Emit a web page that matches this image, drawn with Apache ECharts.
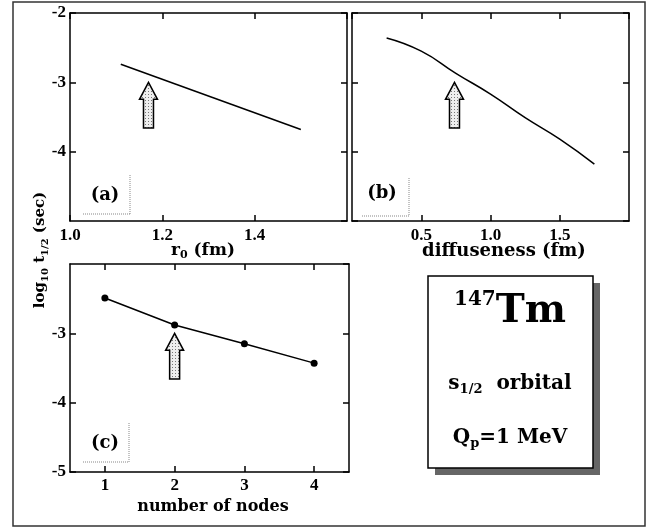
<!DOCTYPE html>
<html>
<head>
<meta charset="utf-8">
<script src="https://cdn.jsdelivr.net/npm/echarts@6/dist/echarts.min.js"></script>
<style>
html,body{margin:0;padding:0;background:#fff;}
#chart{width:662px;height:529px;}
</style>
</head>
<body>
<div id="chart"></div>
<script>
// ---- data ----
const r0Data = [[1.11, -2.74], [1.5, -3.68]];
const diffData = [[0.25, -2.36], [0.5, -2.55], [0.75, -2.87], [1.0, -3.17], [1.25, -3.51], [1.5, -3.82], [1.75, -4.18]];
const nodeCategories = ['1', '2', '3', '4'];
const nodeValues = [-2.49, -2.88, -3.15, -3.43];
// arrows: [x, yTip, yBase]
const arrowA = [[1.17, -3.0, -3.66]];
const arrowB = [[0.74, -3.0, -3.66]];
const arrowC = [[1, -3.0, -3.66]]; // category index of "2"

const tickFont = 'Liberation Serif';
const textFont = 'DejaVu Serif';

const chart = echarts.init(document.getElementById('chart'), null, {renderer: 'canvas'});

// dotted fill pattern
const pc = document.createElement('canvas');
pc.width = 3; pc.height = 3;
const pctx = pc.getContext('2d');
pctx.fillStyle = '#eeeeee'; pctx.fillRect(0, 0, 3, 3);
pctx.fillStyle = '#777'; pctx.fillRect(1, 1, 1, 1);
const pattern = {image: pc, repeat: 'repeat'};

const lineStyle = {color: '#000', width: 1.5};
function axisBase(extra) {
  return Object.assign({
    axisLine: {show: true, onZero: false, lineStyle: lineStyle},
    axisTick: {show: true, inside: true, length: 6, lineStyle: lineStyle},
    splitLine: {show: false},
    axisLabel: {show: false}
  }, extra);
}
const xLabel = {show: true, color: '#000', fontFamily: tickFont, fontWeight: 'bold', fontSize: 17, margin: 6};
const yLabel = {show: true, color: '#000', fontFamily: tickFont, fontWeight: 'bold', fontSize: 17, margin: 4};

const xAxis = [
  axisBase({gridIndex: 0, type: 'value', position: 'bottom', min: 1.0, max: 1.6, interval: 0.2,
    axisLabel: Object.assign({}, xLabel, {showMaxLabel: false, formatter: v => v.toFixed(1)})}),
  axisBase({gridIndex: 0, type: 'value', position: 'top', min: 1.0, max: 1.6, interval: 0.2}),
  axisBase({gridIndex: 1, type: 'value', position: 'bottom', min: 0, max: 2, interval: 0.5,
    axisLabel: Object.assign({}, xLabel, {showMinLabel: false, showMaxLabel: false, formatter: v => v.toFixed(1)})}),
  axisBase({gridIndex: 1, type: 'value', position: 'top', min: 0, max: 2, interval: 0.5}),
  axisBase({gridIndex: 2, type: 'category', position: 'bottom', data: nodeCategories, boundaryGap: true,
    axisTick: {show: true, inside: true, length: 6, alignWithLabel: true, lineStyle: lineStyle},
    axisLabel: Object.assign({}, xLabel, {margin: 5})}),
  axisBase({gridIndex: 2, type: 'category', position: 'top', data: nodeCategories, boundaryGap: true,
    axisTick: {show: true, inside: true, length: 6, alignWithLabel: true, lineStyle: lineStyle}})
];
const yAxis = [
  axisBase({gridIndex: 0, type: 'value', position: 'left', min: -5, max: -2, interval: 1,
    axisLabel: Object.assign({}, yLabel, {showMinLabel: false})}),
  axisBase({gridIndex: 0, type: 'value', position: 'right', min: -5, max: -2, interval: 1}),
  axisBase({gridIndex: 1, type: 'value', position: 'left', min: -5, max: -2, interval: 1}),
  axisBase({gridIndex: 1, type: 'value', position: 'right', min: -5, max: -2, interval: 1}),
  axisBase({gridIndex: 2, type: 'value', position: 'left', min: -5, max: -2, interval: 1,
    axisLabel: Object.assign({}, yLabel, {showMaxLabel: false})}),
  axisBase({gridIndex: 2, type: 'value', position: 'right', min: -5, max: -2, interval: 1})
];

function arrowRender(params, api) {
  const tip = api.coord([api.value(0), api.value(1)]);
  const base = api.coord([api.value(0), api.value(2)]);
  const hw = 9, sw = 5, hh = 17;
  const x = tip[0], y = tip[1];
  return {
    type: 'polygon',
    shape: {points: [[x, y], [x + hw, y + hh], [x + sw, y + hh], [x + sw, base[1]], [x - sw, base[1]], [x - sw, y + hh], [x - hw, y + hh]]},
    style: {fill: pattern, stroke: '#000', lineWidth: 1.5}
  };
}

const series = [
  {type: 'line', xAxisIndex: 0, yAxisIndex: 0, data: r0Data, showSymbol: false, lineStyle: {color: '#000', width: 1.5}, silent: true},
  {type: 'line', xAxisIndex: 2, yAxisIndex: 2, data: diffData, showSymbol: false, smooth: 0.5, lineStyle: {color: '#000', width: 1.5}, silent: true},
  {type: 'line', xAxisIndex: 4, yAxisIndex: 4, data: nodeValues, symbol: 'circle', symbolSize: 7, itemStyle: {color: '#000'}, lineStyle: {color: '#000', width: 1.5}, silent: true},
  {type: 'custom', xAxisIndex: 0, yAxisIndex: 0, data: arrowA, renderItem: arrowRender, silent: true},
  {type: 'custom', xAxisIndex: 2, yAxisIndex: 2, data: arrowB, renderItem: arrowRender, silent: true},
  {type: 'custom', xAxisIndex: 4, yAxisIndex: 4, data: arrowC, renderItem: arrowRender, silent: true}
];

const dot = {stroke: '#888', lineWidth: 1, lineDash: [1, 1]};
function panelTag(label, cx, cy, vx, vy1, vy2, hx1) {
  return [
    {type: 'text', x: cx, y: cy, style: {text: label, fill: '#000', font: 'bold 18px "' + textFont + '"', textAlign: 'center', textVerticalAlign: 'middle'}},
    {type: 'line', shape: {x1: vx, y1: vy1, x2: vx, y2: vy2}, style: dot},
    {type: 'line', shape: {x1: hx1, y1: vy2, x2: vx, y2: vy2}, style: dot}
  ];
}

const titleStyle = {fill: '#000', fontFamily: textFont, fontWeight: 'bold', fontSize: 16, textAlign: 'center', textVerticalAlign: 'middle'};
const graphic = [
  {type: 'rect', shape: {x: 13, y: 2, width: 632, height: 524}, style: {fill: 'none', stroke: '#333', lineWidth: 1.5}, z: 0},
  // text box with shadow
  {type: 'rect', shape: {x: 435, y: 283, width: 165, height: 192}, style: {fill: '#666'}, z: 1},
  {type: 'rect', shape: {x: 428, y: 276, width: 165, height: 192}, style: {fill: '#fff', stroke: '#000', lineWidth: 1.5}, z: 2},
  {type: 'text', x: 510, y: 312, z: 3, style: {
    text: '{sup|147}{big|Tm}', textAlign: 'center', textVerticalAlign: 'middle', fill: '#000',
    rich: {
      sup: {fontFamily: textFont, fontWeight: 'bold', fontSize: 20, lineHeight: 14, verticalAlign: 'top'},
      big: {fontFamily: textFont, fontWeight: 'bold', fontSize: 39, lineHeight: 44}
    }}},
  {type: 'text', x: 510, y: 384, z: 3, style: {
    text: '{b|s}{s|1/2}{b|  orbital}', textAlign: 'center', textVerticalAlign: 'middle', fill: '#000',
    rich: {
      b: {fontFamily: textFont, fontWeight: 'bold', fontSize: 20, lineHeight: 24},
      s: {fontFamily: textFont, fontWeight: 'bold', fontSize: 13, lineHeight: 8, verticalAlign: 'bottom'}
    }}},
  {type: 'text', x: 510, y: 438, z: 3, style: {
    text: '{b|Q}{s|p}{b|=1 MeV}', textAlign: 'center', textVerticalAlign: 'middle', fill: '#000',
    rich: {
      b: {fontFamily: textFont, fontWeight: 'bold', fontSize: 20, lineHeight: 24},
      s: {fontFamily: textFont, fontWeight: 'bold', fontSize: 13, lineHeight: 8, verticalAlign: 'bottom'}
    }}},
  // axis titles
  {type: 'text', x: 203, y: 251, style: {
    text: '{b|r}{s|0}{b| (fm)}', textAlign: 'center', textVerticalAlign: 'middle', fill: '#000',
    rich: {
      b: {fontFamily: textFont, fontWeight: 'bold', fontSize: 17, lineHeight: 20},
      s: {fontFamily: textFont, fontWeight: 'bold', fontSize: 11, lineHeight: 6, verticalAlign: 'bottom'}
    }}},
  {type: 'text', x: 504, y: 251, style: Object.assign({}, titleStyle, {text: 'diffuseness (fm)', fontSize: 18})},
  {type: 'text', x: 213, y: 507, style: Object.assign({}, titleStyle, {text: 'number of nodes'})},
  {type: 'text', x: 40, y: 250, rotation: Math.PI / 2, style: {
    text: '{b|log}{s|10}{b| t}{s|1/2}{b| (sec)}', textAlign: 'center', textVerticalAlign: 'middle', fill: '#000',
    rich: {
      b: {fontFamily: textFont, fontWeight: 'bold', fontSize: 15, lineHeight: 20},
      s: {fontFamily: textFont, fontWeight: 'bold', fontSize: 10, lineHeight: 6, verticalAlign: 'bottom'}
    }}}
]
.concat(panelTag('(a)', 105, 195, 130, 175, 214, 83))
.concat(panelTag('(b)', 382, 193, 409, 178, 216, 362))
.concat(panelTag('(c)', 105, 443, 129, 423, 462, 83));

chart.setOption({
  animation: false,
  backgroundColor: '#fff',
  grid: [
    {left: 70, top: 13, width: 277, height: 208},
    {left: 352, top: 13, width: 277, height: 208},
    {left: 70, top: 264, width: 279, height: 208}
  ],
  xAxis: xAxis,
  yAxis: yAxis,
  series: series,
  graphic: graphic
});
</script>
</body>
</html>
